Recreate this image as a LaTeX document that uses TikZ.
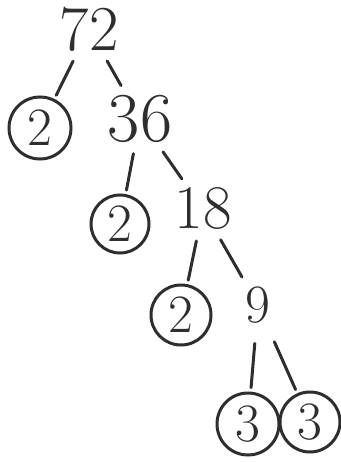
\documentclass[tikz,border=0pt]{standalone}
\usepackage{tikz}
\usetikzlibrary{positioning,calc}
\definecolor{pencil}{HTML}{2E2E2E}
\tikzset{
  num/.style    = {inner sep=0pt, text=pencil},
  prime/.style  = {draw=pencil, line width=3pt, circle, inner sep=0pt,
                   minimum size=60pt, text=pencil, font=\fontsize{54}{54}\selectfont},
  branch/.style = {draw=pencil, line width=3pt, line cap=round,
                   shorten <=11pt, shorten >=4pt},
}
\begin{document}
\begin{tikzpicture}[x=1pt,y=-1pt]
\useasboundingbox[fill=white] (0,0) rectangle (340,462);
\node[num,font=\fontsize{64}{64}\selectfont] (n72) at (89,29) {72};
\node[prime,minimum size=62pt] (p1) at (40,128) {2};
\node[num,font=\fontsize{70}{70}\selectfont] (n36) at (140,119) {36};
\node[prime,minimum size=58pt] (p2) at (120,224) {2};
\node[num,font=\fontsize{62}{62}\selectfont] (n18) at (203,209) {18};
\node[prime] (p3) at (181,315) {2};
\node[num,font=\fontsize{54}{54}\selectfont] (n9) at (258,305) {9};
\node[prime,minimum size=62pt] (p4) at (248,424) {3};
\node[prime] (p5) at (310,422) {3};
\draw[branch] (n72) -- (p1);
\draw[branch,shorten >=11pt] (n72) -- (n36);
\draw[branch] (n36) -- (p2);
\draw[branch,shorten >=11pt] (n36) -- (n18);
\draw[branch] (n18) -- (p3);
\draw[branch,shorten >=11pt] (n18) -- (n9);
\draw[branch,shorten <=20pt] (n9) -- (p4);
\draw[branch,shorten <=20pt] (n9) -- (p5);
\end{tikzpicture}
\end{document}
